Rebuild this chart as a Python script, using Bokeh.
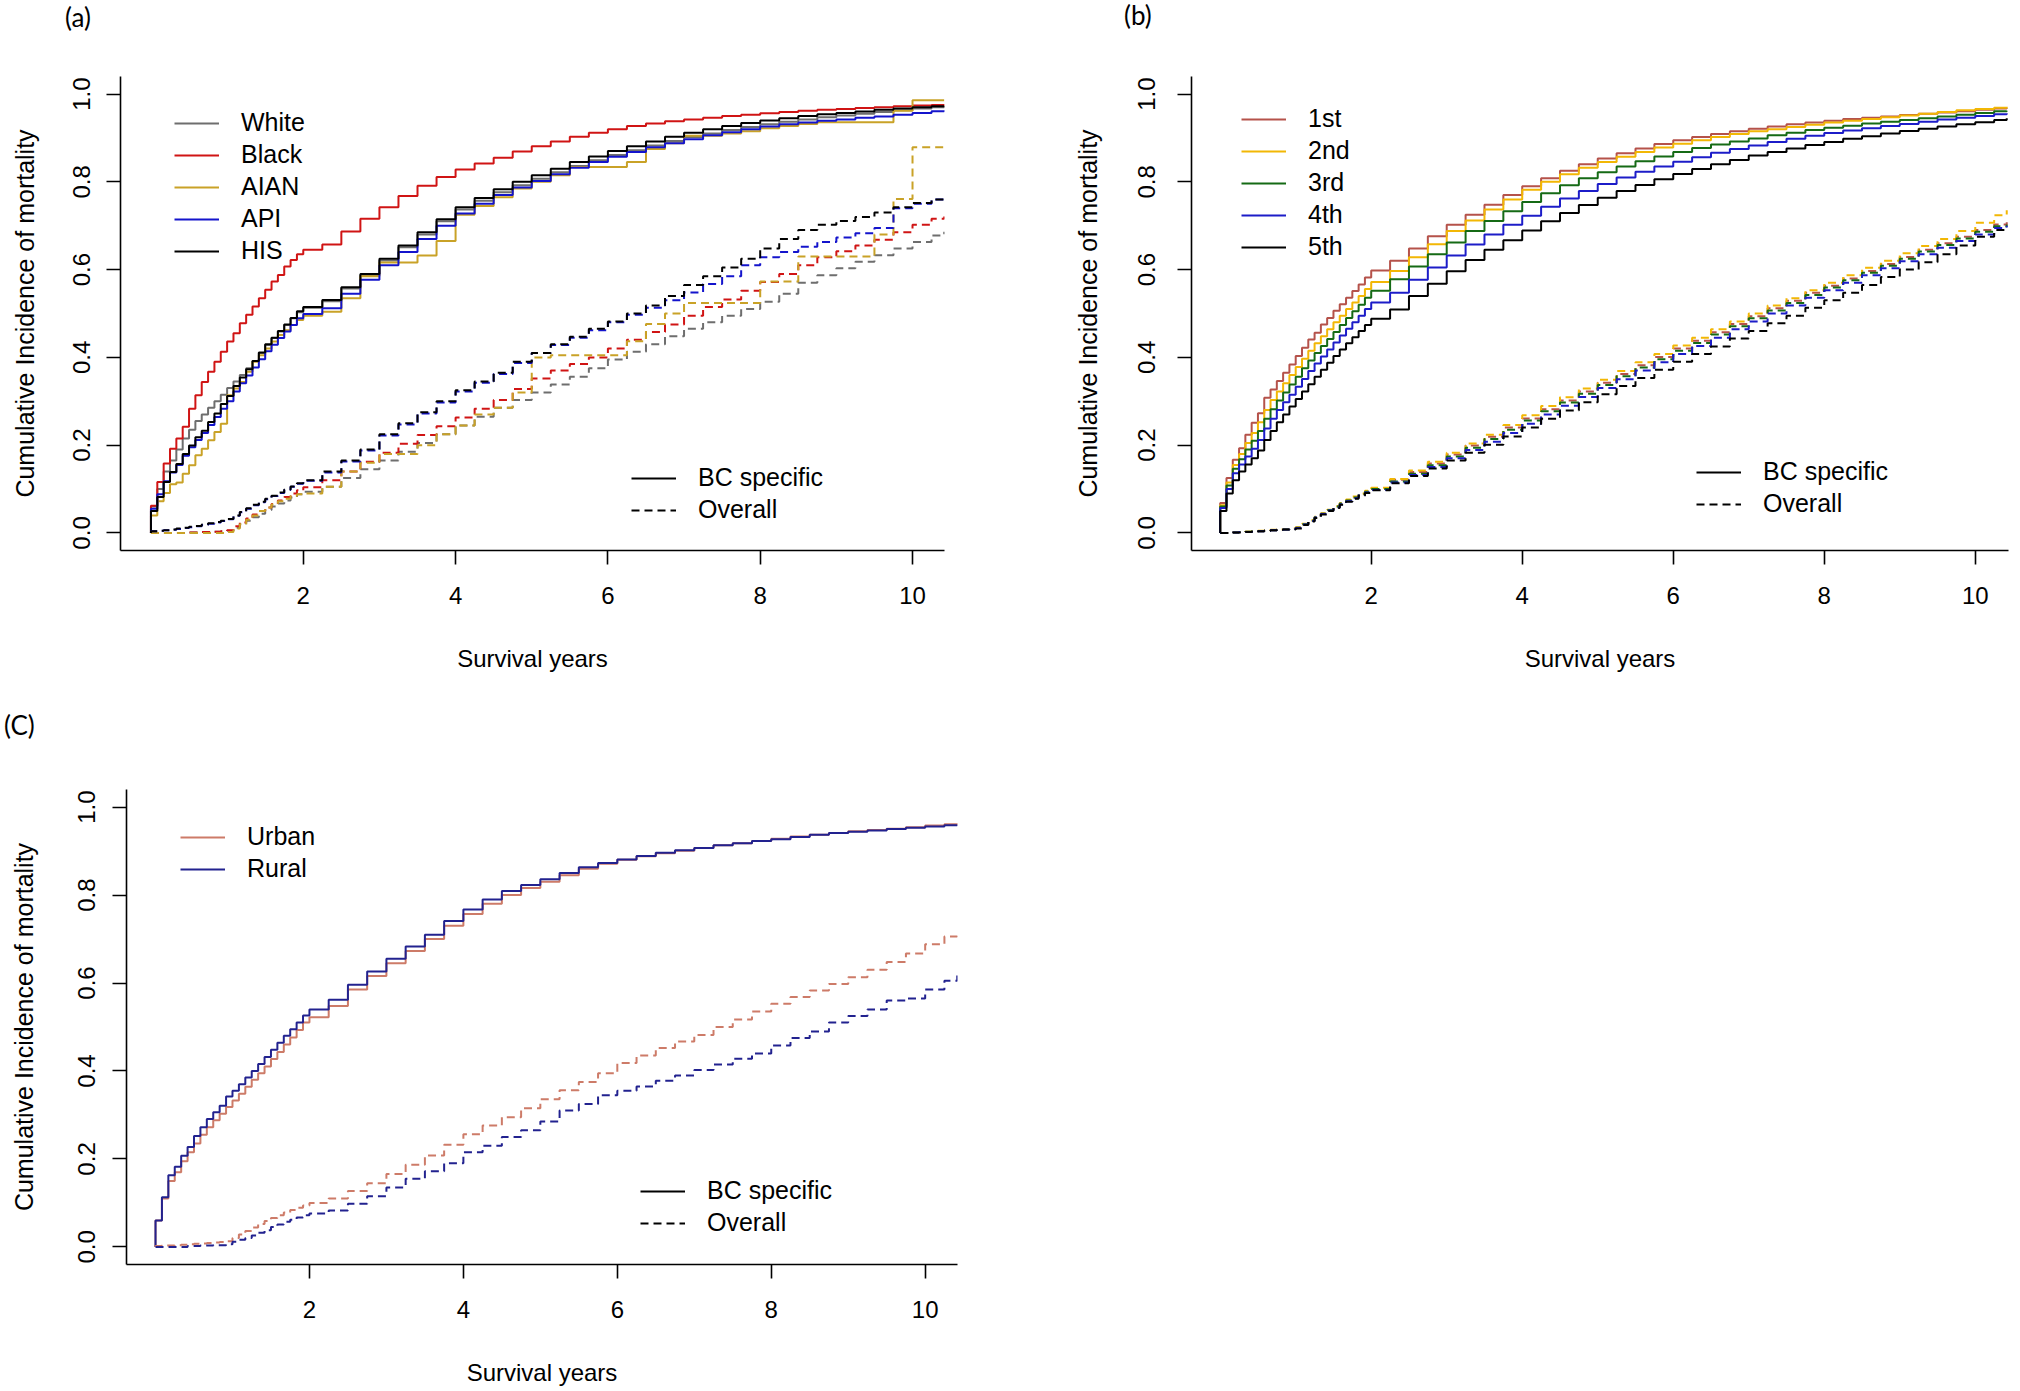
from bokeh.plotting import figure
from bokeh.models import Range1d, FixedTicker, NumeralTickFormatter, Legend, LegendItem, Div
from bokeh.layouts import column, row
from bokeh.embed import file_html
from bokeh.resources import INLINE

# ---------------- time grid (months since diagnosis) ----------------
# first point is the origin (0, 0); monthly steps to 24 months, then quarterly, end at 125 months
MONTHS = [0] + list(range(0, 25)) + list(range(27, 124, 3)) + [125]
X_TICKS = [2, 4, 6, 8, 10]
Y_TICKS = [0.0, 0.2, 0.4, 0.6, 0.8, 1.0]

# ---------------- panel (a): race ----------------
a_names = ["White", "Black", "AIAN", "API", "HIS"]
a_colors = ["#6E6E6E", "#D01414", "#C9A227", "#1414CC", "#000000"]

a_white_bc = [0.0,
    0.060, 0.100, 0.140, 0.165, 0.190, 0.215, 0.235, 0.255, 0.270, 0.285, 0.300, 0.315, 0.330,
    0.345, 0.360, 0.375, 0.392, 0.410, 0.428, 0.444, 0.459, 0.474, 0.489, 0.503, 0.513,
    0.528, 0.557, 0.587, 0.621, 0.651, 0.680, 0.710, 0.737, 0.757, 0.776, 0.792, 0.807, 0.822,
    0.836, 0.849, 0.861, 0.872, 0.883, 0.893, 0.902, 0.910, 0.918, 0.925, 0.931, 0.937, 0.942,
    0.947, 0.951, 0.955, 0.959, 0.963, 0.967, 0.970,
    0.971]
a_black_bc = [0.0,
    0.062, 0.116, 0.158, 0.192, 0.215, 0.242, 0.283, 0.314, 0.344, 0.367, 0.390, 0.413, 0.436,
    0.455, 0.478, 0.497, 0.516, 0.535, 0.554, 0.573, 0.588, 0.607, 0.622, 0.635, 0.645,
    0.657, 0.687, 0.716, 0.742, 0.768, 0.791, 0.811, 0.828, 0.842, 0.855, 0.869, 0.881, 0.892,
    0.903, 0.912, 0.920, 0.927, 0.933, 0.938, 0.942, 0.946, 0.950, 0.953, 0.956, 0.959, 0.962,
    0.964, 0.966, 0.968, 0.970, 0.972, 0.974, 0.975,
    0.976]
a_aian_bc = [0.0,
    0.040, 0.072, 0.091, 0.111, 0.115, 0.135, 0.154, 0.177, 0.192, 0.211, 0.230, 0.249, 0.314,
    0.329, 0.344, 0.367, 0.390, 0.405, 0.420, 0.436, 0.451, 0.462, 0.474, 0.485, 0.495,
    0.504, 0.535, 0.585, 0.616, 0.616, 0.632, 0.665, 0.725, 0.745, 0.765, 0.785, 0.800, 0.815,
    0.834, 0.834, 0.834, 0.845, 0.875, 0.888, 0.905, 0.905, 0.910, 0.915, 0.922, 0.927, 0.932,
    0.936, 0.936, 0.936, 0.936, 0.962, 0.986, 0.986,
    0.986]
a_api_bc = [0.0,
    0.055, 0.088, 0.118, 0.138, 0.155, 0.176, 0.195, 0.212, 0.228, 0.246, 0.264, 0.283, 0.300,
    0.322, 0.341, 0.359, 0.377, 0.396, 0.414, 0.429, 0.444, 0.459, 0.474, 0.489, 0.499,
    0.512, 0.545, 0.577, 0.610, 0.640, 0.670, 0.700, 0.728, 0.750, 0.770, 0.787, 0.802, 0.817,
    0.832, 0.845, 0.857, 0.868, 0.879, 0.888, 0.897, 0.906, 0.913, 0.920, 0.926, 0.931, 0.935,
    0.939, 0.942, 0.946, 0.949, 0.953, 0.957, 0.961,
    0.963]
a_his_bc = [0.0,
    0.050, 0.082, 0.116, 0.139, 0.157, 0.180, 0.199, 0.218, 0.233, 0.253, 0.272, 0.294, 0.312,
    0.335, 0.354, 0.373, 0.392, 0.411, 0.430, 0.445, 0.460, 0.475, 0.490, 0.505, 0.515,
    0.531, 0.560, 0.590, 0.625, 0.655, 0.685, 0.715, 0.742, 0.763, 0.783, 0.800, 0.815, 0.830,
    0.845, 0.858, 0.870, 0.881, 0.892, 0.903, 0.912, 0.920, 0.927, 0.934, 0.940, 0.945, 0.950,
    0.954, 0.957, 0.960, 0.964, 0.967, 0.970, 0.972,
    0.973]

a_white_all = [0.0,
    0.000, 0.000, 0.000, 0.000, 0.000, 0.000, 0.001, 0.001, 0.002, 0.002, 0.003, 0.004, 0.005,
    0.012, 0.020, 0.028, 0.036, 0.044, 0.052, 0.060, 0.067, 0.074, 0.081, 0.088, 0.094,
    0.105, 0.125, 0.145, 0.165, 0.185, 0.205, 0.225, 0.245, 0.265, 0.285, 0.303, 0.320, 0.338,
    0.356, 0.375, 0.395, 0.413, 0.430, 0.448, 0.465, 0.480, 0.495, 0.510, 0.527, 0.545, 0.570,
    0.587, 0.603, 0.618, 0.633, 0.648, 0.663, 0.678,
    0.686]
a_black_all = [0.0,
    0.000, 0.000, 0.000, 0.000, 0.000, 0.000, 0.001, 0.001, 0.002, 0.002, 0.003, 0.004, 0.006,
    0.015, 0.024, 0.033, 0.042, 0.050, 0.058, 0.066, 0.074, 0.082, 0.090, 0.097, 0.104,
    0.120, 0.140, 0.162, 0.183, 0.203, 0.223, 0.243, 0.263, 0.283, 0.303, 0.328, 0.352, 0.370,
    0.385, 0.400, 0.420, 0.440, 0.458, 0.475, 0.495, 0.515, 0.532, 0.552, 0.572, 0.590, 0.610,
    0.628, 0.642, 0.655, 0.668, 0.685, 0.702, 0.716,
    0.721]
a_aian_all = [0.0,
    0.000, 0.000, 0.000, 0.000, 0.000, 0.000, 0.000, 0.000, 0.000, 0.000, 0.000, 0.000, 0.002,
    0.010, 0.020, 0.030, 0.040, 0.050, 0.058, 0.065, 0.072, 0.078, 0.084, 0.088, 0.090,
    0.105, 0.140, 0.160, 0.180, 0.180, 0.200, 0.225, 0.245, 0.270, 0.285, 0.320, 0.400, 0.405,
    0.405, 0.405, 0.405, 0.437, 0.476, 0.500, 0.524, 0.524, 0.524, 0.524, 0.573, 0.573, 0.630,
    0.630, 0.630, 0.630, 0.680, 0.761, 0.879, 0.879,
    0.879]
a_api_all = [0.0,
    0.004, 0.005, 0.006, 0.007, 0.009, 0.011, 0.013, 0.015, 0.018, 0.021, 0.024, 0.027, 0.031,
    0.039, 0.047, 0.055, 0.063, 0.070, 0.077, 0.084, 0.091, 0.098, 0.105, 0.112, 0.119,
    0.138, 0.163, 0.188, 0.222, 0.247, 0.272, 0.297, 0.322, 0.342, 0.362, 0.387, 0.410, 0.428,
    0.445, 0.462, 0.480, 0.497, 0.513, 0.530, 0.548, 0.567, 0.585, 0.610, 0.628, 0.640, 0.652,
    0.663, 0.673, 0.683, 0.695, 0.740, 0.750, 0.760,
    0.765]
a_his_all = [0.0,
    0.004, 0.005, 0.006, 0.008, 0.010, 0.012, 0.014, 0.016, 0.019, 0.022, 0.025, 0.028, 0.032,
    0.040, 0.048, 0.056, 0.064, 0.071, 0.078, 0.085, 0.092, 0.099, 0.106, 0.113, 0.120,
    0.140, 0.165, 0.190, 0.225, 0.250, 0.275, 0.300, 0.325, 0.345, 0.365, 0.390, 0.410, 0.430,
    0.447, 0.465, 0.482, 0.500, 0.518, 0.540, 0.565, 0.585, 0.605, 0.625, 0.648, 0.670, 0.690,
    0.702, 0.711, 0.720, 0.730, 0.742, 0.752, 0.760,
    0.765]

# ---------------- panel (b): quintiles ----------------
b_names = ["1st", "2nd", "3rd", "4th", "5th"]
b_colors = ["#B5524A", "#F2B705", "#156A15", "#1C1CC8", "#000000"]

b_q1_bc = [0.0,
    0.068, 0.125, 0.167, 0.193, 0.224, 0.251, 0.273, 0.308, 0.327, 0.346, 0.365, 0.384, 0.403,
    0.422, 0.441, 0.456, 0.475, 0.490, 0.506, 0.521, 0.536, 0.551, 0.566, 0.582, 0.598,
    0.620, 0.648, 0.676, 0.702, 0.725, 0.748, 0.770, 0.790, 0.808, 0.825, 0.840, 0.853, 0.865,
    0.876, 0.886, 0.895, 0.902, 0.909, 0.915, 0.921, 0.926, 0.931, 0.935, 0.939, 0.943, 0.946,
    0.949, 0.952, 0.955, 0.958, 0.961, 0.964, 0.967,
    0.968]
b_q2_bc = [0.0,
    0.063, 0.115, 0.155, 0.180, 0.205, 0.228, 0.252, 0.280, 0.303, 0.322, 0.341, 0.360, 0.378,
    0.397, 0.415, 0.432, 0.448, 0.464, 0.480, 0.495, 0.510, 0.525, 0.540, 0.556, 0.572,
    0.597, 0.628, 0.658, 0.688, 0.712, 0.737, 0.760, 0.782, 0.800, 0.817, 0.832, 0.845, 0.857,
    0.868, 0.878, 0.887, 0.895, 0.902, 0.909, 0.915, 0.920, 0.925, 0.930, 0.935, 0.939, 0.943,
    0.947, 0.951, 0.955, 0.959, 0.963, 0.966, 0.969,
    0.971]
b_q3_bc = [0.0,
    0.060, 0.108, 0.146, 0.168, 0.190, 0.210, 0.232, 0.260, 0.282, 0.302, 0.320, 0.338, 0.356,
    0.375, 0.393, 0.410, 0.426, 0.442, 0.458, 0.474, 0.490, 0.505, 0.520, 0.536, 0.552,
    0.578, 0.607, 0.635, 0.662, 0.688, 0.711, 0.733, 0.754, 0.774, 0.792, 0.808, 0.822, 0.835,
    0.847, 0.858, 0.868, 0.877, 0.885, 0.892, 0.899, 0.906, 0.912, 0.918, 0.923, 0.928, 0.933,
    0.937, 0.941, 0.945, 0.949, 0.953, 0.957, 0.961,
    0.962]
b_q4_bc = [0.0,
    0.057, 0.100, 0.136, 0.156, 0.174, 0.192, 0.212, 0.238, 0.260, 0.280, 0.298, 0.315, 0.333,
    0.351, 0.369, 0.386, 0.402, 0.418, 0.434, 0.450, 0.465, 0.480, 0.495, 0.510, 0.525,
    0.547, 0.577, 0.605, 0.632, 0.657, 0.680, 0.702, 0.723, 0.743, 0.762, 0.779, 0.795, 0.810,
    0.823, 0.835, 0.846, 0.856, 0.866, 0.875, 0.883, 0.891, 0.898, 0.905, 0.911, 0.917, 0.922,
    0.927, 0.932, 0.937, 0.942, 0.946, 0.950, 0.954,
    0.956]
b_q5_bc = [0.0,
    0.050, 0.090, 0.120, 0.140, 0.156, 0.170, 0.188, 0.212, 0.232, 0.252, 0.270, 0.288, 0.305,
    0.322, 0.339, 0.356, 0.372, 0.388, 0.403, 0.418, 0.432, 0.446, 0.460, 0.474, 0.488,
    0.509, 0.540, 0.568, 0.596, 0.622, 0.645, 0.667, 0.689, 0.710, 0.729, 0.747, 0.764, 0.779,
    0.793, 0.806, 0.818, 0.829, 0.840, 0.850, 0.860, 0.868, 0.876, 0.884, 0.891, 0.898, 0.904,
    0.910, 0.916, 0.921, 0.926, 0.931, 0.936, 0.941,
    0.945]

b_q1_all = [0.0,
    0.000, 0.000, 0.001, 0.002, 0.003, 0.004, 0.004, 0.005, 0.006, 0.007, 0.008, 0.009, 0.012,
    0.020, 0.028, 0.036, 0.044, 0.052, 0.060, 0.067, 0.074, 0.081, 0.088, 0.094, 0.100,
    0.121, 0.139, 0.158, 0.179, 0.199, 0.219, 0.240, 0.261, 0.282, 0.302, 0.322, 0.342, 0.362,
    0.382, 0.401, 0.420, 0.438, 0.457, 0.476, 0.494, 0.512, 0.529, 0.547, 0.563, 0.580, 0.597,
    0.613, 0.629, 0.645, 0.660, 0.675, 0.690, 0.703,
    0.708]
b_q2_all = [0.0,
    0.000, 0.000, 0.001, 0.002, 0.003, 0.004, 0.005, 0.006, 0.007, 0.008, 0.009, 0.010, 0.013,
    0.021, 0.029, 0.037, 0.045, 0.053, 0.061, 0.068, 0.076, 0.083, 0.090, 0.096, 0.103,
    0.123, 0.142, 0.162, 0.183, 0.204, 0.224, 0.246, 0.268, 0.289, 0.309, 0.329, 0.349, 0.369,
    0.389, 0.408, 0.427, 0.445, 0.464, 0.482, 0.500, 0.518, 0.535, 0.553, 0.570, 0.587, 0.604,
    0.620, 0.637, 0.654, 0.670, 0.688, 0.707, 0.724,
    0.735]
b_q3_all = [0.0,
    0.000, 0.000, 0.001, 0.002, 0.003, 0.004, 0.004, 0.005, 0.006, 0.007, 0.008, 0.009, 0.012,
    0.020, 0.028, 0.036, 0.044, 0.052, 0.060, 0.067, 0.074, 0.081, 0.088, 0.094, 0.100,
    0.117, 0.135, 0.154, 0.174, 0.194, 0.214, 0.235, 0.256, 0.277, 0.297, 0.317, 0.337, 0.357,
    0.377, 0.396, 0.415, 0.433, 0.452, 0.471, 0.489, 0.507, 0.524, 0.542, 0.559, 0.576, 0.593,
    0.609, 0.625, 0.641, 0.656, 0.671, 0.686, 0.699,
    0.703]
b_q4_all = [0.0,
    0.000, 0.000, 0.001, 0.002, 0.002, 0.003, 0.004, 0.005, 0.006, 0.007, 0.008, 0.009, 0.011,
    0.019, 0.027, 0.035, 0.043, 0.051, 0.058, 0.065, 0.072, 0.079, 0.086, 0.092, 0.098,
    0.115, 0.132, 0.150, 0.170, 0.189, 0.208, 0.228, 0.249, 0.270, 0.290, 0.310, 0.330, 0.350,
    0.370, 0.389, 0.408, 0.426, 0.445, 0.464, 0.482, 0.500, 0.518, 0.536, 0.553, 0.570, 0.587,
    0.603, 0.619, 0.635, 0.650, 0.665, 0.680, 0.695,
    0.700]
b_q5_all = [0.0,
    0.000, 0.000, 0.001, 0.001, 0.002, 0.003, 0.004, 0.005, 0.006, 0.007, 0.008, 0.008, 0.010,
    0.018, 0.026, 0.034, 0.042, 0.050, 0.057, 0.064, 0.071, 0.078, 0.085, 0.091, 0.097,
    0.113, 0.130, 0.147, 0.165, 0.183, 0.201, 0.220, 0.240, 0.260, 0.279, 0.298, 0.316, 0.335,
    0.353, 0.372, 0.390, 0.408, 0.425, 0.443, 0.460, 0.478, 0.495, 0.513, 0.530, 0.547, 0.565,
    0.583, 0.600, 0.617, 0.635, 0.655, 0.675, 0.690,
    0.695]

# ---------------- panel (c): urban / rural ----------------
c_names = ["Urban", "Rural"]
c_colors = ["#CD7B68", "#22228F"]

c_urban_bc = [0.0,
    0.060, 0.110, 0.150, 0.170, 0.195, 0.215, 0.235, 0.255, 0.272, 0.288, 0.303, 0.318, 0.333,
    0.348, 0.364, 0.380, 0.395, 0.410, 0.427, 0.443, 0.460, 0.476, 0.493, 0.510, 0.522,
    0.548, 0.585, 0.616, 0.645, 0.673, 0.700, 0.730, 0.757, 0.780, 0.800, 0.816, 0.830, 0.845,
    0.860, 0.871, 0.880, 0.888, 0.895, 0.901, 0.907, 0.913, 0.918, 0.923, 0.928, 0.933, 0.937,
    0.941, 0.945, 0.948, 0.951, 0.954, 0.958, 0.961,
    0.963]
c_rural_bc = [0.0,
    0.060, 0.113, 0.163, 0.182, 0.207, 0.227, 0.252, 0.272, 0.291, 0.306, 0.321, 0.342, 0.355,
    0.370, 0.385, 0.400, 0.416, 0.432, 0.448, 0.464, 0.480, 0.495, 0.510, 0.526, 0.540,
    0.562, 0.596, 0.626, 0.655, 0.683, 0.710, 0.741, 0.767, 0.790, 0.809, 0.823, 0.836, 0.850,
    0.863, 0.873, 0.881, 0.889, 0.896, 0.902, 0.907, 0.913, 0.918, 0.923, 0.927, 0.932, 0.937,
    0.941, 0.944, 0.947, 0.950, 0.953, 0.956, 0.959,
    0.960]
c_urban_all = [0.0,
    0.002, 0.003, 0.003, 0.004, 0.005, 0.006, 0.007, 0.008, 0.009, 0.010, 0.011, 0.013, 0.020,
    0.028, 0.036, 0.044, 0.052, 0.059, 0.066, 0.072, 0.078, 0.084, 0.089, 0.094, 0.100,
    0.110, 0.127, 0.145, 0.166, 0.187, 0.208, 0.232, 0.256, 0.276, 0.295, 0.315, 0.336, 0.356,
    0.375, 0.395, 0.418, 0.435, 0.452, 0.467, 0.482, 0.500, 0.517, 0.535, 0.553, 0.568, 0.583,
    0.598, 0.613, 0.630, 0.648, 0.667, 0.688, 0.706,
    0.716]
c_rural_all = [0.0,
    0.000, 0.000, 0.000, 0.000, 0.000, 0.002, 0.002, 0.003, 0.003, 0.004, 0.004, 0.006, 0.012,
    0.016, 0.020, 0.026, 0.032, 0.038, 0.045, 0.051, 0.057, 0.062, 0.067, 0.072, 0.076,
    0.083, 0.098, 0.115, 0.135, 0.155, 0.172, 0.190, 0.215, 0.230, 0.250, 0.265, 0.285, 0.310,
    0.325, 0.345, 0.355, 0.365, 0.378, 0.390, 0.402, 0.415, 0.428, 0.440, 0.458, 0.475, 0.490,
    0.510, 0.525, 0.540, 0.560, 0.565, 0.585, 0.605,
    0.617]

FONT = "Liberation Sans"
FS = "24px"
DASH = "8 5"
NAN = float("nan")


def make_panel(width, height, mb, x_range, names, colors, bc, overall,
               leg1, leg2, ytick_standoff, ylab_standoff, xtick_standoff, xlab_standoff):
    years = [m / 12 for m in MONTHS]
    p = figure(width=width, height=height, output_backend="svg", toolbar_location=None,
               x_range=Range1d(*x_range), y_range=Range1d(-0.04, 1.04),
               min_border_left=mb[0], min_border_right=mb[1],
               min_border_top=mb[2], min_border_bottom=mb[3],
               x_axis_label="Survival years",
               y_axis_label="Cumulative Incidence of mortality")
    p.xgrid.visible = False
    p.ygrid.visible = False
    p.outline_line_color = None
    p.background_fill_color = "white"
    p.border_fill_color = "white"

    for ax in (p.xaxis[0], p.yaxis[0]):
        ax.axis_line_width = 1.6
        ax.axis_line_color = "black"
        ax.major_tick_line_width = 1.6
        ax.major_tick_line_color = "black"
        ax.major_tick_out = 14
        ax.major_tick_in = 0
        ax.minor_tick_out = 0
        ax.minor_tick_in = 0
        ax.major_label_text_font = FONT
        ax.major_label_text_font_size = FS
        ax.major_label_text_color = "black"
        ax.axis_label_text_font = FONT
        ax.axis_label_text_font_style = "normal"
        ax.axis_label_text_color = "black"
    p.xaxis.axis_label_text_font_size = "24px"
    p.yaxis.axis_label_text_font_size = "25px"
    p.xaxis.ticker = FixedTicker(ticks=X_TICKS)
    p.yaxis.ticker = FixedTicker(ticks=Y_TICKS)
    p.yaxis.formatter = NumeralTickFormatter(format="0.0")
    p.yaxis.major_label_orientation = "vertical"
    p.xaxis.major_label_standoff = xtick_standoff
    p.yaxis.major_label_standoff = ytick_standoff
    p.xaxis.axis_label_standoff = xlab_standoff
    p.yaxis.axis_label_standoff = ylab_standoff

    solid = []
    for name, col, ys in zip(names, colors, bc):
        assert len(ys) == len(years), (name, len(ys))
        r = p.step(years, ys, mode="after", line_color=col, line_width=2)
        solid.append(r)
    for name, col, ys in zip(names, colors, overall):
        assert len(ys) == len(years), (name, len(ys))
        p.step(years, ys, mode="after", line_color=col, line_width=2, line_dash=DASH)

    common = dict(label_text_font=FONT, label_text_font_size="25px", label_text_color="black",
                  glyph_width=45, glyph_height=28, label_height=28, spacing=3,
                  label_standoff=22, padding=0, margin=0,
                  border_line_alpha=0, background_fill_alpha=0)
    l1 = Legend(items=[LegendItem(label=n, renderers=[r]) for n, r in zip(names, solid)],
                location=leg1, **common)
    # legend proxies for the line-type key (no visible data)
    d1 = p.line(x=[NAN], y=[NAN], line_color="black", line_width=2)
    d2 = p.line(x=[NAN], y=[NAN], line_color="black", line_width=2, line_dash=DASH)
    l2 = Legend(items=[LegendItem(label="BC specific", renderers=[d1]),
                       LegendItem(label="Overall", renderers=[d2])],
                location=leg2, **common)
    p.add_layout(l1)
    p.add_layout(l2)
    return p


def panel_tag(text, left, top):
    return Div(text=text, width=40, height=30,
               styles={"position": "absolute", "left": f"{left}px", "top": f"{top}px",
                       "font-family": "Lato", "font-size": "26px", "line-height": "26px",
                       "color": "black", "margin": "0", "padding": "0"})


pa = make_panel(1010, 700, (120, 66, 76, 150), (-0.40, 10.42), a_names, a_colors,
                [a_white_bc, a_black_bc, a_aian_bc, a_api_bc, a_his_bc],
                [a_white_all, a_black_all, a_aian_all, a_api_all, a_his_all],
                (54, 285), (511, 26), 16, 32, 22, 38)

pb = make_panel(1010, 700, (181, 12, 76, 150), (-0.38, 10.44), b_names, b_colors,
                [b_q1_bc, b_q2_bc, b_q3_bc, b_q4_bc, b_q5_bc],
                [b_q1_all, b_q2_all, b_q3_all, b_q4_all, b_q5_all],
                (50, 289), (505, 32), 22, 34, 22, 38)

pc = make_panel(1000, 690, (126, 43, 89, 126), (-0.377, 10.42), c_names, c_colors,
                [c_urban_bc, c_rural_bc],
                [c_urban_all, c_rural_all],
                (54, 381), (514, 27), 17, 38, 22, 38)

tags = [panel_tag("(a)", 65, 4), panel_tag("(b)", 1124, 2), panel_tag("(C)", 4, 712)]

layout = column(row(pa, pb), pc, *tags)
open("out.html", "w").write(file_html(layout, INLINE))
